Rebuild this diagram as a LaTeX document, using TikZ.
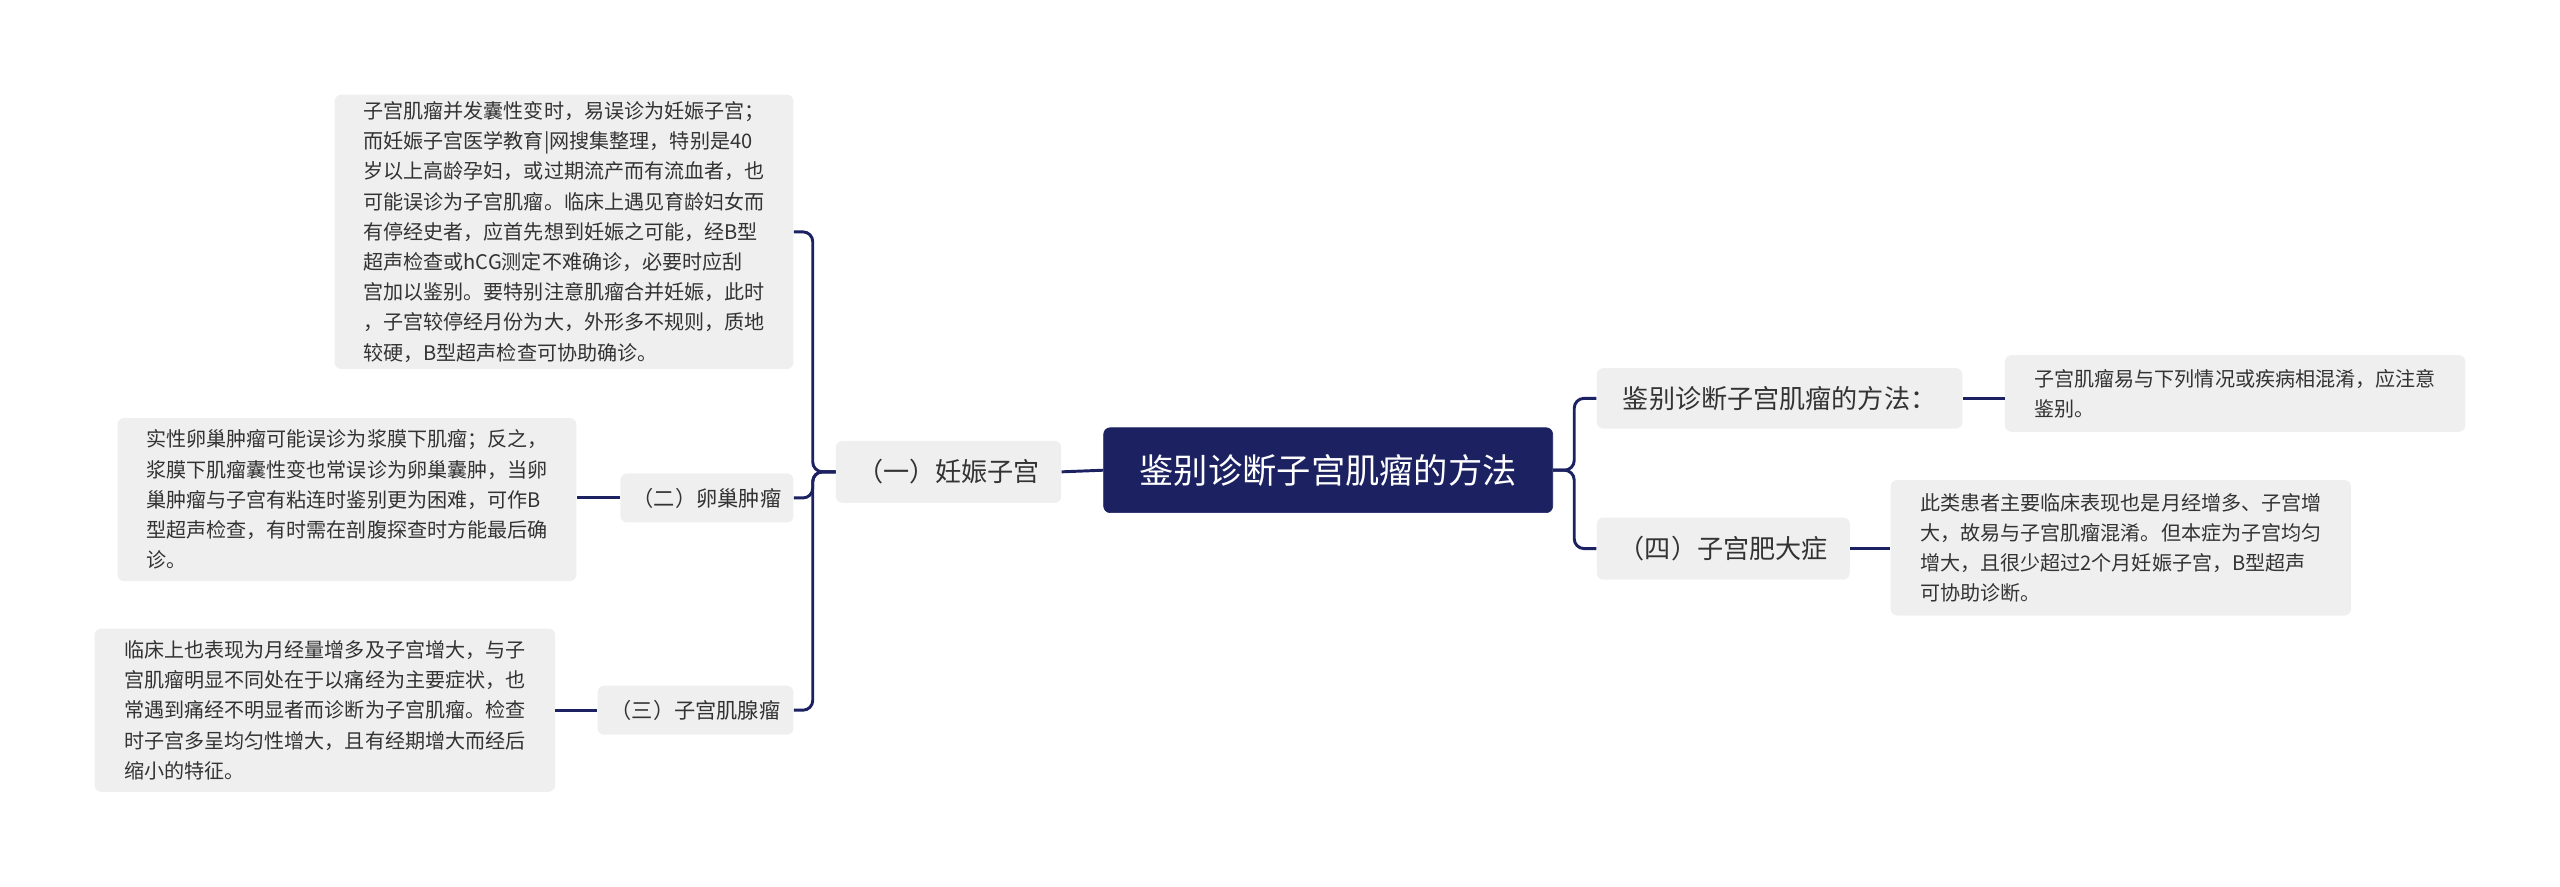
\documentclass[tikz,border=0pt]{standalone}
\usepackage{fontspec}
\setmainfont{Noto Sans CJK SC}
\definecolor{navy}{HTML}{1C2161}
\definecolor{boxgray}{HTML}{EFEFEF}
\definecolor{txt}{HTML}{333333}
\begin{document}
\begin{tikzpicture}[x=1pt,y=-1pt,
  box/.style={fill=boxgray,rounded corners=4pt,inner sep=0pt,text=txt,align=left},
  leaf/.style={box,font=\fontsize{12.3}{18.5}\selectfont},
  sub/.style={box,font=\fontsize{13}{16}\selectfont},
  branch/.style={box,font=\fontsize{16}{20}\selectfont},
  conn/.style={draw=navy,line width=1.8pt,rounded corners=6pt}]
\useasboundingbox (0,0) rectangle (1568,543);
\node[fill=navy,rounded corners=4pt,draw=navy,text=white,minimum width=275pt,minimum height=52pt,font=\fontsize{21}{24}\selectfont] (root) at (813.5,288) {鉴别诊断子宫肌瘤的方法};
\node[branch,minimum width=224pt,minimum height=37pt] (b1) at (1090,244) {鉴别诊断子宫肌瘤的方法：};
\node[branch,minimum width=155pt,minimum height=38pt] (b2) at (1055.5,336) {（四）子宫肥大症};
\node[leaf,minimum width=282pt,minimum height=47pt] (r1) at (1369,241) {子宫肌瘤易与下列情况或疾病相混淆，应注意\\鉴别。};
\node[leaf,minimum width=282pt,minimum height=83pt] (r2) at (1299,335.5) {此类患者主要临床表现也是月经增多、子宫增\\大，故易与子宫肌瘤混淆。但本症为子宫均匀\\增大，且很少超过2个月妊娠子宫，B型超声\\可协助诊断。};
\node[branch,minimum width=138pt,minimum height=38pt] (l1) at (581,289) {（一）妊娠子宫};
\node[sub,minimum width=106pt,minimum height=30pt] (l2) at (433,305) {（二）卵巢肿瘤};
\node[sub,minimum width=120pt,minimum height=30pt] (l3) at (426,435) {（三）子宫肌腺瘤};
\node[leaf,minimum width=281pt,minimum height=168pt] (t1) at (345.5,142) {子宫肌瘤并发囊性变时，易误诊为妊娠子宫；\\而妊娠子宫医学教育|网搜集整理，特别是40\\岁以上高龄孕妇，或过期流产而有流血者，也\\可能误诊为子宫肌瘤。临床上遇见育龄妇女而\\有停经史者，应首先想到妊娠之可能，经B型\\超声检查或hCG测定不难确诊，必要时应刮\\宫加以鉴别。要特别注意肌瘤合并妊娠，此时\\，子宫较停经月份为大，外形多不规则，质地\\较硬，B型超声检查可协助确诊。};
\node[leaf,minimum width=281pt,minimum height=100pt] (t2) at (212.5,306) {实性卵巢肿瘤可能误诊为浆膜下肌瘤；反之，\\浆膜下肌瘤囊性变也常误诊为卵巢囊肿，当卵\\巢肿瘤与子宫有粘连时鉴别更为困难，可作B\\型超声检查，有时需在剖腹探查时方能最后确\\诊。};
\node[leaf,minimum width=282pt,minimum height=100pt] (t3) at (199,435) {临床上也表现为月经量增多及子宫增大，与子\\宫肌瘤明显不同处在于以痛经为主要症状，也\\常遇到痛经不明显者而诊断为子宫肌瘤。检查\\时子宫多呈均匀性增大，且有经期增大而经后\\缩小的特征。};
\draw[conn] (root.east) -- ++(13,0) |- (b1.west);
\draw[conn] (root.east) -- ++(13,0) |- (b2.west);
\draw[conn] (b1.east) -- (r1.west|-b1.east);
\draw[conn] (b2.east) -- (r2.west|-b2.east);
\draw[conn] (root.west) -- (l1.east);
\draw[conn] (l1.west) -- ++(-14,0) |- (t1.east);
\draw[conn] (l1.west) -- ++(-14,0) |- (l2.east);
\draw[conn] (l1.west) -- ++(-14,0) |- (l3.east);
\draw[conn] (l2.west) -- (t2.east|-l2.west);
\draw[conn] (l3.west) -- (t3.east|-l3.west);
\end{tikzpicture}
\end{document}
